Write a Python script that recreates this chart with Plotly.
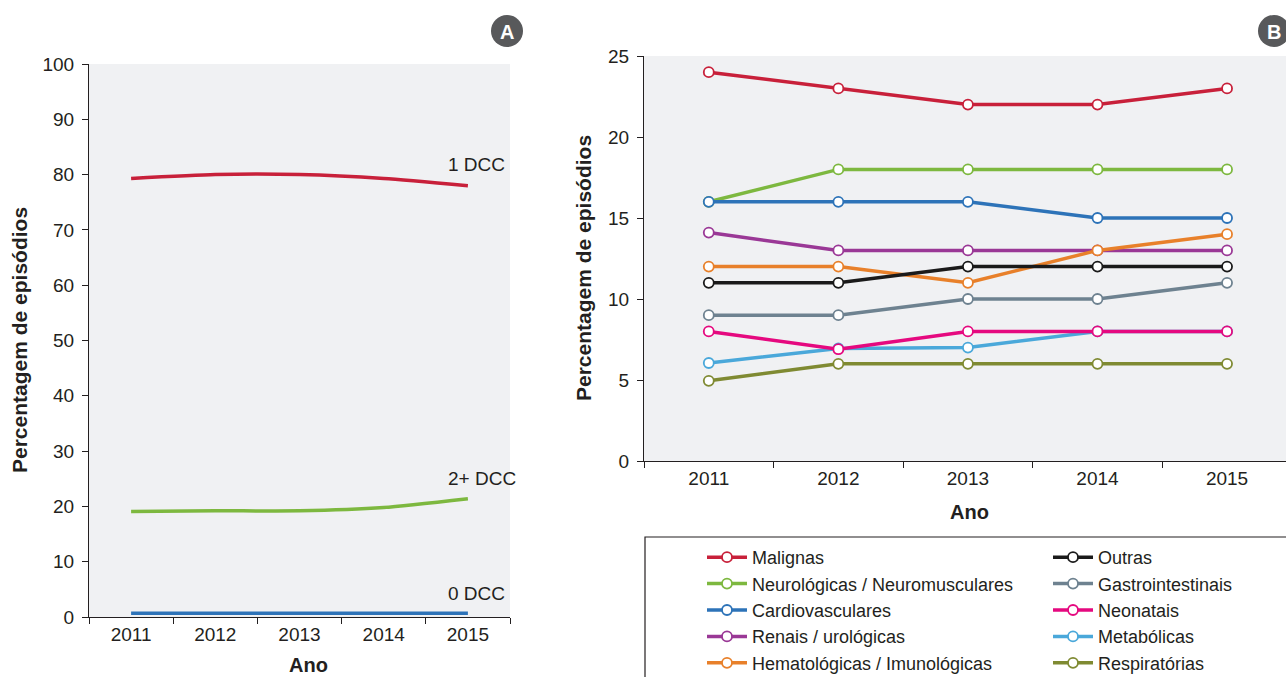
import plotly.graph_objects as go

W, H = 1286, 677
def px(x): return x / W
def py(y): return 1 - y / H

years = ["2011", "2012", "2013", "2014", "2015"]

# Panel A
dcc_names = ["1 DCC", "2+ DCC", "0 DCC"]
dcc_1 = [79.3, 80.0, 80.0, 79.3, 78.0]
dcc_2 = [19.1, 19.2, 19.2, 19.8, 21.4]
dcc_0 = [0.7, 0.7, 0.7, 0.7, 0.7]
dcc_colors = ["#C8203A", "#7DB83F", "#2D73B8"]

# Panel B
groups = ["Malignas", "Neurológicas / Neuromusculares", "Cardiovasculares",
          "Renais / urológicas", "Hematológicas / Imunológicas",
          "Outras", "Gastrointestinais", "Neonatais", "Metabólicas", "Respiratórias"]
malignas = [24, 23, 22, 22, 23]
neuro = [16, 18, 18, 18, 18]
cardio = [16, 16, 16, 15, 15]
renais = [14.1, 13, 13, 13, 13]
hemato = [12, 12, 11, 13, 14]
outras = [11, 11, 12, 12, 12]
gastro = [9, 9, 10, 10, 11]
neonatais = [8, 6.9, 8, 8, 8]
metabolicas = [6.05, 6.95, 7, 8, 8]
respiratorias = [4.95, 6, 6, 6, 6]
group_values = [malignas, neuro, cardio, renais, hemato, outras, gastro,
                neonatais, metabolicas, respiratorias]
group_colors = ["#C8203A", "#7DB83F", "#2D73B8", "#9A3896", "#E8802A",
                "#1A1A1A", "#6E8290", "#E5097F", "#4AA8DA", "#7F8A32"]

FONT = "Liberation Sans, Arial, sans-serif"
TXT = "#231F20"

fig = go.Figure()

for name, vals, col in zip(dcc_names, [dcc_1, dcc_2, dcc_0], dcc_colors):
    fig.add_trace(go.Scatter(x=years, y=vals, mode="lines",
                             line=dict(color=col, width=3.5, shape="spline", smoothing=0.6),
                             showlegend=False, xaxis="x", yaxis="y", name=name))

# draw order: Metabólicas before Neonatais so magenta markers sit on top
draw_order = [0, 1, 2, 3, 4, 5, 6, 8, 7, 9]
for i in draw_order:
    fig.add_trace(go.Scatter(
        x=years, y=group_values[i], mode="lines+markers", name=groups[i],
        line=dict(color=group_colors[i], width=3.5),
        marker=dict(symbol="circle", size=10, color="white",
                    line=dict(color=group_colors[i], width=1.8)),
        xaxis="x2", yaxis="y2",
        legend="legend" if i < 5 else "legend2",
        legendrank=i, legendgroup=groups[i]))

axis_common = dict(showline=True, linecolor=TXT, linewidth=1.2, showgrid=False,
                   zeroline=False, ticks="outside", ticklen=6, tickcolor=TXT,
                   tickwidth=1.2, tickfont=dict(family=FONT, size=19, color=TXT))

leg_common = dict(xanchor="left", yanchor="top", xref="container", yref="container",
                  bgcolor="rgba(0,0,0,0)", font=dict(family=FONT, size=18, color=TXT),
                  traceorder="grouped", tracegroupgap=0, itemwidth=40)

fig.update_layout(
    width=W, height=H,
    margin=dict(l=0, r=0, t=0, b=0, autoexpand=False),
    paper_bgcolor="white", plot_bgcolor="#F0F1F3",
    font=dict(family=FONT, color=TXT),
    xaxis=dict(domain=[px(89), px(510)], type="category", range=[-0.5, 4.5],
               tickson="boundaries", anchor="y", **axis_common),
    yaxis=dict(domain=[py(617), py(64)], range=[0, 100], dtick=10, anchor="x",
               ticklabelstandoff=4, **axis_common),
    xaxis2=dict(domain=[px(644), 1], type="category", range=[-0.5, 4.455],
                tickson="boundaries", anchor="y2", **axis_common),
    yaxis2=dict(domain=[py(461), py(56)], range=[0, 25], dtick=5, anchor="x2",
                ticklabelstandoff=4, **axis_common),
    legend=dict(x=px(702), y=py(539), **leg_common),
    legend2=dict(x=px(1048), y=py(539), **leg_common),
)

shapes = [
    dict(type="rect", xref="paper", yref="paper", x0=px(645), x1=px(1295),
         y0=py(690), y1=py(537), line=dict(color=TXT, width=1.2)),
    dict(type="circle", xref="paper", yref="paper", x0=px(491), x1=px(523),
         y0=py(47), y1=py(15), fillcolor="#58595B", line=dict(width=0)),
    dict(type="circle", xref="paper", yref="paper", x0=px(1258), x1=px(1290),
         y0=py(47), y1=py(15), fillcolor="#58595B", line=dict(width=0)),
]
fig.update_layout(shapes=shapes)

ann = []
def a(text, x, y, size=19, bold=False, angle=0, color=TXT, xanchor="center"):
    if bold:
        text = "<b>" + text + "</b>"
    ann.append(dict(text=text, x=px(x), y=py(y), xref="paper", yref="paper",
                    showarrow=False, xanchor=xanchor, yanchor="middle", textangle=angle,
                    font=dict(family=FONT, size=size, color=color)))

a("1 DCC", 476, 165)
a("2+ DCC", 482, 478)
a("0 DCC", 476, 593)
a("Ano", 308, 665, size=20, bold=True)
a("Ano", 969, 512, size=20, bold=True)
a("Percentagem de episódios", 19, 340, size=21, bold=True, angle=-90)
a("Percentagem de episódios", 584, 268, size=21, bold=True, angle=-90)
a("A", 507, 32, size=20, bold=True, color="white")
a("B", 1274, 32, size=20, bold=True, color="white")
fig.update_layout(annotations=ann)

fig.write_html("out.html")
